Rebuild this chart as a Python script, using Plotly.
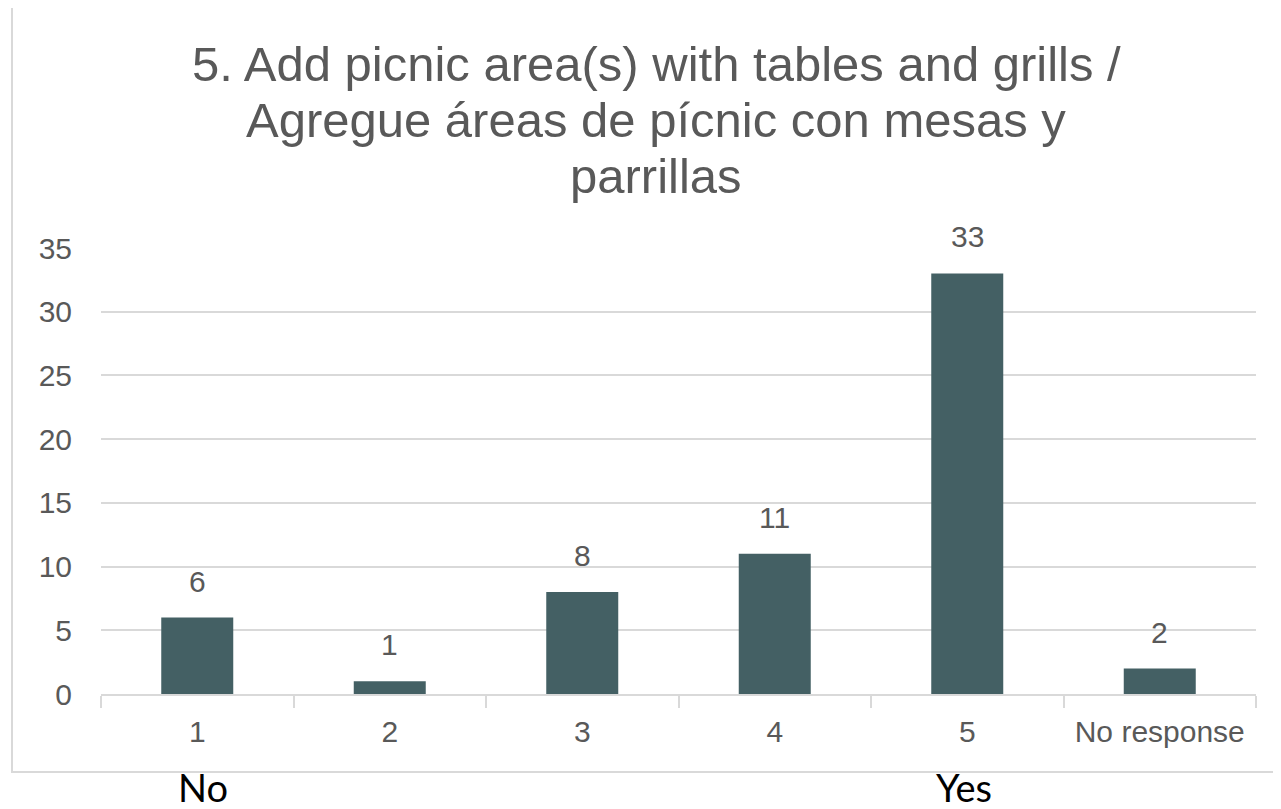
import plotly.graph_objects as go

categories = ["1", "2", "3", "4", "5", "No response"]
counts = [6, 1, 8, 11, 33, 2]
y_ticks = [0, 5, 10, 15, 20, 25, 30, 35]
title_lines = [
    "5. Add picnic area(s) with tables and grills /",
    "Agregue áreas de pícnic con mesas y",
    "parrillas",
]
scale_labels = ["No", "Yes"]

OFF = 8  # default body margin of the html page
W, H = 1281 - OFF, 809 - OFF
# plot area in page pixels
PL, PR, PT, PB = 101, 1256, 248, 694
L, R, T, B = PL - OFF, PR - OFF, PT - OFF, PB - OFF


def px_x(p):
    return (p - OFF - L) / (R - L)


def px_y(p):
    return (B - (p - OFF)) / (B - T)


BAR = "#446064"
TXT = "#595959"
GRID = "#d9d9d9"
FONT = "Liberation Sans, Arial, sans-serif"

fig = go.Figure()
fig.add_trace(go.Bar(x=categories, y=counts, marker=dict(color=BAR, line=dict(width=0)),
                     hoverinfo="skip"))

annotations = []
for i, v in enumerate(counts):
    annotations.append(dict(x=i, y=v, xref="x", yref="y", text=str(v), showarrow=False,
                            yanchor="bottom", yshift=18,
                            font=dict(family=FONT, size=30, color=TXT)))

title_y = [64, 120, 176]
for line, yp in zip(title_lines, title_y):
    annotations.append(dict(x=px_x(656), y=px_y(yp), xref="paper", yref="paper", text=line,
                            showarrow=False, xanchor="center", yanchor="middle",
                            font=dict(family=FONT, size=49, color=TXT)))

for lab, xp in zip(scale_labels, [203, 964]):
    annotations.append(dict(x=px_x(xp), y=px_y(787), xref="paper", yref="paper", text=lab,
                            showarrow=False, xanchor="center", yanchor="middle",
                            font=dict(family="Lato, Noto Sans, sans-serif", size=38, color="#000000")))

fig.update_layout(
    width=W, height=H,
    margin=dict(l=L, r=W - R, t=T, b=H - B, pad=0),
    paper_bgcolor="white", plot_bgcolor="white",
    showlegend=False,
    bargap=0.626,
    annotations=annotations,
    shapes=[dict(type="rect", xref="paper", yref="paper",
                 x0=px_x(12), x1=px_x(1300), y0=px_y(772), y1=px_y(6),
                 line=dict(color=GRID, width=2), fillcolor="rgba(0,0,0,0)", layer="below")],
    xaxis=dict(showgrid=False, showline=True, linecolor=GRID, linewidth=2,
               ticks="outside", tickson="boundaries", ticklen=12, tickcolor=GRID, tickwidth=2,
               tickfont=dict(family=FONT, size=30, color=TXT), ticklabelstandoff=10,
               fixedrange=True),
    yaxis=dict(range=[0, 35], tickvals=y_ticks, showgrid=True, gridcolor=GRID, gridwidth=2,
               zeroline=False, showline=False, ticks="",
               tickfont=dict(family=FONT, size=30, color=TXT), ticklabelstandoff=28,
               fixedrange=True),
)

fig.write_html("out.html", config={"displayModeBar": False})
